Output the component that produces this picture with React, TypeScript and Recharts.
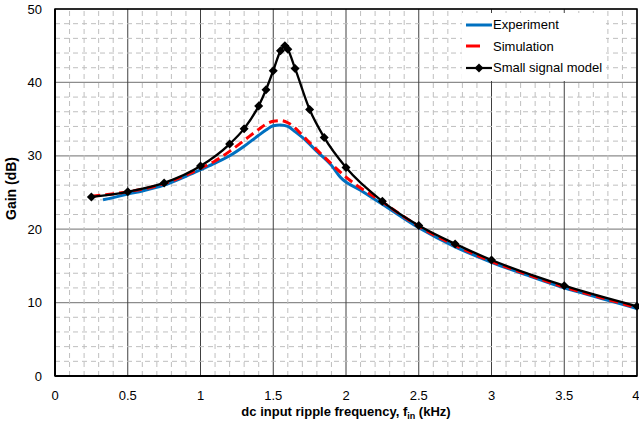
import {
  CartesianGrid,
  Label,
  Line,
  LineChart,
  ReferenceArea,
  ReferenceLine,
  XAxis,
  YAxis,
} from "recharts";

// experiment (blue)
const expFreq = [0.33, 0.4, 0.5, 0.6, 0.75, 0.9, 1.0, 1.1, 1.2, 1.3, 1.4, 1.45, 1.5, 1.55, 1.6, 1.65, 1.7, 1.8, 1.9, 1.96, 2.1, 2.25, 2.5, 2.75, 3.0, 3.25, 3.5, 3.75, 4.0];
const expGain = [24.0, 24.3, 24.8, 25.2, 26.0, 27.2, 28.1, 29.0, 30.0, 31.3, 32.8, 33.5, 34.1, 34.2, 34.0, 33.3, 32.5, 30.6, 28.7, 27.1, 25.3, 23.4, 20.2, 17.6, 15.5, 13.7, 12.0, 10.6, 9.2];

// simulation (red dashed)
const simFreq = [0.25, 0.5, 0.75, 1.0, 1.1, 1.2, 1.3, 1.4, 1.45, 1.5, 1.55, 1.6, 1.65, 1.7, 1.8, 1.9, 2.0, 2.25, 2.5, 2.75, 3.0, 3.25, 3.5, 3.75, 4.0];
const simGain = [24.5, 25.1, 26.2, 28.3, 29.3, 30.6, 32.1, 33.6, 34.3, 34.7, 34.8, 34.5, 33.8, 32.8, 30.8, 28.9, 27.1, 23.7, 20.4, 17.8, 15.6, 13.8, 12.1, 10.7, 9.3];

// small signal model (black + diamonds)
const ssmFreq = [0.25, 0.5, 0.75, 1.0, 1.2, 1.3, 1.4, 1.45, 1.5, 1.55, 1.58, 1.6, 1.65, 1.75, 1.85, 2.0, 2.25, 2.5, 2.75, 3.0, 3.5, 4.0];
const ssmGain = [24.4, 25.1, 26.3, 28.6, 31.6, 33.7, 36.8, 39.0, 41.6, 44.3, 45.0, 44.5, 41.9, 36.3, 32.5, 28.4, 23.8, 20.5, 18.0, 15.8, 12.3, 9.5];

const xTicks = [0, 0.5, 1, 1.5, 2, 2.5, 3, 3.5, 4];
const yTicks = [0, 10, 20, 30, 40, 50];
const xMinor = [0.1, 0.2, 0.3, 0.4, 0.6, 0.7, 0.8, 0.9, 1.1, 1.2, 1.3, 1.4, 1.6, 1.7, 1.8, 1.9, 2.1, 2.2, 2.3, 2.4, 2.6, 2.7, 2.8, 2.9, 3.1, 3.2, 3.3, 3.4, 3.6, 3.7, 3.8, 3.9];
const yMinor = [2, 4, 6, 8, 12, 14, 16, 18, 22, 24, 26, 28, 32, 34, 36, 38, 42, 44, 46, 48];

const zip = (xs: number[], ys: number[]) => xs.map((x, i) => ({ f: x, g: ys[i] }));
const expData = zip(expFreq, expGain);
const simData = zip(simFreq, simGain);
const ssmData = zip(ssmFreq, ssmGain);

const FONT = "Arial, 'Liberation Sans', sans-serif";
const BLUE = "#0070C0";
const RED = "#FF0000";

function Diamond(props: any) {
  const { cx, cy } = props;
  if (cx == null || cy == null) return null;
  const r = 4.5;
  return <path d={`M${cx},${cy - r}L${cx + r},${cy}L${cx},${cy + r}L${cx - r},${cy}Z`} fill="#000" />;
}

function LegendBox() {
  const row = { display: "flex", alignItems: "center", height: 21.5 } as const;
  const txt = { fontSize: 13, color: "#000", fontFamily: FONT, marginLeft: 1 } as const;
  return (
    <div style={{ position: "absolute", left: 462, top: 13, background: "#fff", padding: "1px 4px 2px 4px" }}>
      <div style={row}>
        <svg width={26} height={8}><line x1={0} y1={4} x2={26} y2={4} stroke={BLUE} strokeWidth={3} /></svg>
        <span style={txt}>Experiment</span>
      </div>
      <div style={row}>
        <svg width={26} height={8}><line x1={0} y1={4} x2={14} y2={4} stroke={RED} strokeWidth={3} /></svg>
        <span style={txt}>Simulation</span>
      </div>
      <div style={row}>
        <svg width={26} height={10}>
          <line x1={0} y1={5} x2={26} y2={5} stroke="#000" strokeWidth={2.2} />
          <path d="M13,0.5L17.5,5L13,9.5L8.5,5Z" fill="#000" />
        </svg>
        <span style={txt}>Small signal model</span>
      </div>
    </div>
  );
}

function XTitle(props: any) {
  const vb = props.viewBox;
  const cx = vb.x + vb.width / 2;
  return (
    <text x={cx} y={416} textAnchor="middle" fontFamily={FONT} fontSize={13} fontWeight="bold" fill="#000">
      dc input ripple frequency, f
      <tspan fontSize={9} dy={3}>in</tspan>
      <tspan dy={-3}> (kHz)</tspan>
    </text>
  );
}

export default function App() {
  const tick = { fontSize: 13, fill: "#000", fontFamily: FONT };
  return (
    <div style={{ position: "absolute", left: 0, top: 0, background: "#fff" }}>
      <LineChart width={639} height={428} margin={{ top: 9, right: 2, left: 0, bottom: 0 }}>
        <XAxis
          dataKey="f"
          type="number"
          domain={[0, 4]}
          ticks={xTicks}
          allowDuplicatedCategory={false}
          tick={tick}
          tickLine={false}
          tickSize={0}
          tickMargin={15}
          axisLine={{ stroke: "#000", strokeWidth: 2 }}
          height={52}
        >
          <Label content={<XTitle />} />
        </XAxis>
        <YAxis
          type="number"
          domain={[0, 50]}
          ticks={yTicks}
          tick={tick}
          tickLine={false}
          tickSize={0}
          tickMargin={13}
          axisLine={{ stroke: "#000", strokeWidth: 2 }}
          width={55}
        >
          <Label
            value="Gain (dB)"
            angle={-90}
            position="insideLeft"
            offset={0}
            style={{ fontFamily: FONT, fontSize: 14, fontWeight: "bold", fill: "#000", textAnchor: "middle" }}
            dx={11}
            dy={-4}
          />
        </YAxis>
        {xMinor.map((v) => (
          <ReferenceLine key={"xm" + v} x={v} stroke="#bfbfbf" strokeDasharray="5 4" />
        ))}
        {yMinor.map((v) => (
          <ReferenceLine key={"ym" + v} y={v} stroke="#bfbfbf" strokeDasharray="5 4" />
        ))}
        <CartesianGrid vertical={false} stroke="#8c8c8c" strokeWidth={1.3} />
        <CartesianGrid horizontal={false} stroke="#404040" strokeWidth={1} />
        <ReferenceArea x1={0} x2={4} y1={0} y2={50} fill="none" stroke="#000" strokeWidth={1.5} />
        <Line
          data={expData}
          dataKey="g"
          type="monotone"
          stroke={BLUE}
          strokeWidth={3}
          dot={false}
          activeDot={false}
          isAnimationActive={false}
        />
        <Line
          data={simData}
          dataKey="g"
          type="monotone"
          stroke={RED}
          strokeWidth={3}
          strokeDasharray="9 5"
          dot={false}
          activeDot={false}
          isAnimationActive={false}
        />
        <Line
          data={ssmData}
          dataKey="g"
          type="monotone"
          stroke="#000"
          strokeWidth={2.3}
          dot={<Diamond />}
          activeDot={false}
          isAnimationActive={false}
        />
      </LineChart>
      <LegendBox />
    </div>
  );
}
